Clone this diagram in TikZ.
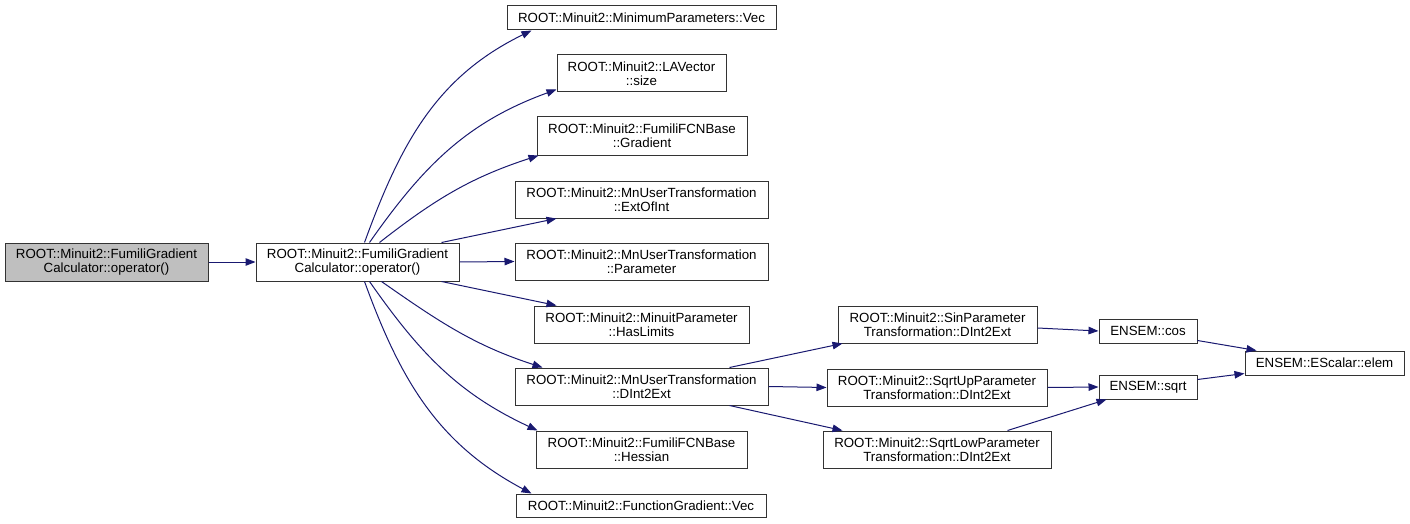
\documentclass[tikz,border=0pt]{standalone}
\usepackage{fontspec}
\setmainfont{Liberation Sans}
\usetikzlibrary{arrows.meta}
\definecolor{edgeblue}{HTML}{191970}
\definecolor{nodegray}{HTML}{BFBFBF}
\definecolor{boxline}{HTML}{333333}
\begin{document}
\begin{tikzpicture}[x=1pt,y=-1pt,
  box/.style={draw=boxline, line width=1pt, fill=white, inner sep=0pt, align=center,
    font=\fontsize{13.3}{13.6}\selectfont, text=black},
  edge/.style={draw=edgeblue, line width=1pt, -{Triangle[length=10pt,width=7.5pt]}}]
\useasboundingbox (0,0) rectangle (1410,524);
% left
\node[box, fill=nodegray, minimum width=203pt, minimum height=38pt] (A) at (106.5,262) {ROOT::Minuit2::FumiliGradient\\Calculator::operator()};
\node[box, minimum width=203pt, minimum height=38pt] (B) at (357.5,262) {ROOT::Minuit2::FumiliGradient\\Calculator::operator()};
% middle column
\node[box, minimum width=269pt, minimum height=24pt] (MPV) at (641.5,18) {ROOT::Minuit2::MinimumParameters::Vec};
\node[box, minimum width=169pt, minimum height=37pt] (LAV) at (641.5,73.5) {ROOT::Minuit2::LAVector\\::size};
\node[box, minimum width=210pt, minimum height=38pt] (Grad) at (642,136) {ROOT::Minuit2::FumiliFCNBase\\::Gradient};
\node[box, minimum width=253pt, minimum height=37pt] (EOI) at (641.5,199.5) {ROOT::Minuit2::MnUserTransformation\\::ExtOfInt};
\node[box, minimum width=253pt, minimum height=37pt] (Par) at (641.5,261.5) {ROOT::Minuit2::MnUserTransformation\\::Parameter};
\node[box, minimum width=215pt, minimum height=37pt] (HL) at (641.5,324.5) {ROOT::Minuit2::MinuitParameter\\::HasLimits};
\node[box, minimum width=253pt, minimum height=37pt] (DI) at (641.5,386.5) {ROOT::Minuit2::MnUserTransformation\\::DInt2Ext};
\node[box, minimum width=211pt, minimum height=37pt] (Hes) at (641.5,449.5) {ROOT::Minuit2::FumiliFCNBase\\::Hessian};
\node[box, minimum width=250pt, minimum height=23pt] (FGV) at (641,505.5) {ROOT::Minuit2::FunctionGradient::Vec};
% right
\node[box, minimum width=199pt, minimum height=37pt] (Sin) at (937.5,324.5) {ROOT::Minuit2::SinParameter\\Transformation::DInt2Ext};
\node[box, minimum width=220pt, minimum height=37pt] (SqU) at (937,387.5) {ROOT::Minuit2::SqrtUpParameter\\Transformation::DInt2Ext};
\node[box, minimum width=228pt, minimum height=37pt] (SqL) at (937,449.5) {ROOT::Minuit2::SqrtLowParameter\\Transformation::DInt2Ext};
\node[box, minimum width=98pt, minimum height=24pt] (cos) at (1148,331) {ENSEM::cos};
\node[box, minimum width=98pt, minimum height=24pt] (sqrt) at (1148,387) {ENSEM::sqrt};
\node[box, minimum width=159pt, minimum height=24pt] (elem) at (1324.5,363) {ENSEM::EScalar::elem};
% edges
\draw[edge] (A) -- (B);
\draw[edge] ([xshift=109pt]B.north west) to[out=70,in=206] ([xshift=25pt]MPV.south west);
\draw[edge] ([xshift=114pt]B.north west) to[out=55,in=200] ([yshift=3pt]LAV.south west);
\draw[edge] ([xshift=124pt]B.north west) to[out=38,in=198] ([xshift=2pt]Grad.south west);
\draw[edge] ([xshift=186pt]B.north west) -- ([xshift=42pt]EOI.south west);
\draw[edge] (B.east) -- (Par.west);
\draw[edge] ([xshift=186pt]B.south west) -- ([xshift=23pt]HL.north west);
\draw[edge] ([xshift=126pt]B.south west) to[out=-35,in=162] ([xshift=28pt]DI.north west);
\draw[edge] ([xshift=114pt]B.south west) to[out=-55,in=155] ([xshift=2pt]Hes.north west);
\draw[edge] ([xshift=109pt]B.south west) to[out=-70,in=152] ([xshift=16pt]FGV.north west);
\draw[edge] ([xshift=215pt]DI.north west) -- ([xshift=5pt]Sin.south west);
\draw[edge] (DI.east) -- (SqU.west);
\draw[edge] ([xshift=215pt]DI.south west) -- ([xshift=20pt]SqL.north west);
\draw[edge] ([yshift=-3.5pt]Sin.east) -- (cos.west);
\draw[edge] (SqU.east) -- (sqrt.west);
\draw[edge] ([xshift=-44pt]SqL.north east) -- ([xshift=8pt]sqrt.south west);
\draw[edge] ([yshift=3pt]cos.south east) -- ([xshift=12pt]elem.north west);
\draw[edge] ([yshift=-5pt]sqrt.north east) -- ([yshift=2pt]elem.south west);
\end{tikzpicture}
\end{document}
